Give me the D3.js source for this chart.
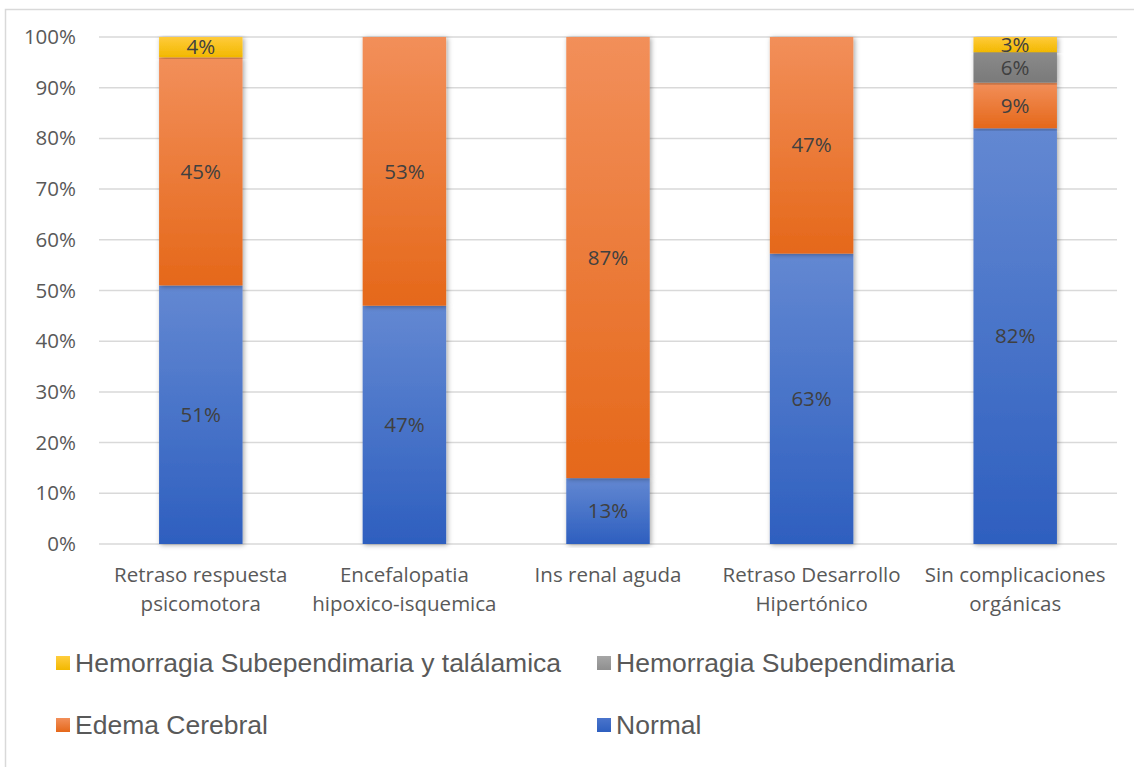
<!DOCTYPE html>
<html>
<head>
<meta charset="utf-8">
<script src="https://cdn.jsdelivr.net/npm/d3@7"></script>
<style>
  body { margin: 0; background: #fff; }
  svg { display: block; }
</style>
</head>
<body>
<svg id="chart" width="1134" height="767"></svg>
<script>
// Categories and series values (percent of cases per complication group)
const categories = [
  ["Retraso respuesta", "psicomotora"],
  ["Encefalopatia", "hipoxico-isquemica"],
  ["Ins renal aguda"],
  ["Retraso Desarrollo", "Hipertónico"],
  ["Sin complicaciones", "orgánicas"]
];
const normal = [51, 47, 13, 63, 82];
const edema = [45, 53, 87, 47, 9];
const hemSub = [0, 0, 0, 0, 6];
const hemSubTal = [4, 0, 0, 0, 3];
const seriesNames = ["Normal", "Edema Cerebral", "Hemorragia Subependimaria", "Hemorragia Subependimaria y találamica"];
const yTicks = [0, 0.1, 0.2, 0.3, 0.4, 0.5, 0.6, 0.7, 0.8, 0.9, 1];

const seriesValues = [normal, edema, hemSub, hemSubTal];
const colors = {
  "Normal": ["#6388d2", "#2e5fbf"],
  "Edema Cerebral": ["#f28f5a", "#e5681a"],
  "Hemorragia Subependimaria": ["#8a8a8a", "#7a7a7a"],
  "Hemorragia Subependimaria y találamica": ["#ffcb3a", "#f2b800"]
};
const legendColors = {
  "Normal": ["#4a74cc", "#2e5fbf"],
  "Edema Cerebral": ["#f28f5a", "#e5681a"],
  "Hemorragia Subependimaria": ["#a6a6a6", "#8f8f8f"],
  "Hemorragia Subependimaria y találamica": ["#ffcd3e", "#f2b800"]
};

const rows = categories.map((c, i) => {
  const r = { key: i };
  seriesNames.forEach((s, j) => r[s] = seriesValues[j][i]);
  return r;
});

const svg = d3.select("#chart");
const margin = { left: 99, right: 17, top: 37, bottom: 223 };
const W = 1134, H = 767;

// Outer frame
svg.append("rect")
  .attr("x", 5.5).attr("y", 9.5)
  .attr("width", 1140).attr("height", 770)
  .attr("fill", "#fff").attr("stroke", "#d9d9d9").attr("stroke-width", 1.5);

const defs = svg.append("defs");
Object.entries(colors).forEach(([name, [c1, c2]], i) => {
  const g = defs.append("linearGradient").attr("id", "g" + i)
    .attr("x1", 0).attr("y1", 0).attr("x2", 0).attr("y2", 1);
  g.append("stop").attr("offset", "0%").attr("stop-color", c1);
  g.append("stop").attr("offset", "100%").attr("stop-color", c2);
});
Object.entries(legendColors).forEach(([name, [c1, c2]], i) => {
  const g = defs.append("linearGradient").attr("id", "lg" + i)
    .attr("x1", 0).attr("y1", 0).attr("x2", 0).attr("y2", 1);
  g.append("stop").attr("offset", "0%").attr("stop-color", c1);
  g.append("stop").attr("offset", "100%").attr("stop-color", c2);
});
const shadow = defs.append("filter").attr("id", "shadow")
  .attr("x", "-20%").attr("y", "-5%").attr("width", "140%").attr("height", "110%");
shadow.append("feDropShadow").attr("dx", 1.5).attr("dy", 1).attr("stdDeviation", 2.5)
  .attr("flood-color", "#000").attr("flood-opacity", 0.35);

const x = d3.scaleBand()
  .domain(d3.range(categories.length))
  .range([margin.left, W - margin.right])
  .paddingInner(0.59).paddingOuter(0.295);
const y = d3.scaleLinear().domain([0, 1]).range([H - margin.bottom, margin.top]);

// Gridlines
svg.append("g").selectAll("line").data(yTicks).join("line")
  .attr("x1", margin.left).attr("x2", W - margin.right)
  .attr("y1", d => y(d)).attr("y2", d => y(d))
  .attr("stroke", "#d9d9d9").attr("stroke-width", 1.5);

// Y axis labels
const yAxis = d3.axisLeft(y).tickValues(yTicks).tickFormat(d3.format(".0%")).tickSize(0).tickPadding(23);
const ya = svg.append("g").attr("transform", `translate(${margin.left},0)`).call(yAxis);
ya.select(".domain").remove();
ya.selectAll("text").attr("font-family", "Open Sans, sans-serif").attr("font-size", 20.5).attr("fill", "#595959");

// Stacked, normalised to 100%
const stack = d3.stack().keys(seriesNames).offset(d3.stackOffsetExpand);
const stacked = stack(rows);

const layers = svg.append("g").selectAll("g").data(stacked).join("g")
  .attr("fill", (d, i) => `url(#g${i})`);

layers.selectAll("rect").data(d => d.map((v, i) => ({ v, i }))).join("rect")
  .attr("x", d => x(d.i))
  .attr("width", x.bandwidth())
  .attr("y", d => y(d.v[1]))
  .attr("height", d => Math.max(0, y(d.v[0]) - y(d.v[1])))
  .attr("filter", "url(#shadow)");

// Data labels
const labels = svg.append("g");
stacked.forEach((layer, si) => {
  layer.forEach((v, i) => {
    const val = seriesValues[si][i];
    if (!val) return;
    labels.append("text")
      .attr("x", x(i) + x.bandwidth() / 2)
      .attr("y", y((v[0] + v[1]) / 2))
      .attr("dy", "0.35em")
      .attr("text-anchor", "middle")
      .attr("font-family", "Open Sans, sans-serif")
      .attr("font-size", 20.5)
      .attr("fill", "#404040")
      .text(val + "%");
  });
});

// X axis labels
const xl = svg.append("g");
categories.forEach((lines, i) => {
  const t = xl.append("text")
    .attr("x", x(i) + x.bandwidth() / 2)
    .attr("y", 582)
    .attr("text-anchor", "middle")
    .attr("font-family", "Open Sans, sans-serif")
    .attr("font-size", 20.5)
    .attr("fill", "#595959");
  lines.forEach((ln, k) => {
    t.append("tspan").attr("x", x(i) + x.bandwidth() / 2).attr("dy", k === 0 ? 0 : 29).text(ln);
  });
});

// Legend
const legendItems = [
  { name: "Hemorragia Subependimaria y találamica", idx: 3, x: 56, y: 663 },
  { name: "Hemorragia Subependimaria", idx: 2, x: 597, y: 663 },
  { name: "Edema Cerebral", idx: 1, x: 56, y: 725 },
  { name: "Normal", idx: 0, x: 597, y: 725 }
];
const lg = svg.append("g");
legendItems.forEach(it => {
  lg.append("rect").attr("x", it.x).attr("y", it.y - 7).attr("width", 14).attr("height", 14)
    .attr("fill", `url(#lg${it.idx})`);
  lg.append("text").attr("x", it.x + 19).attr("y", it.y).attr("dy", "0.35em")
    .attr("font-family", "Liberation Sans, Arial, sans-serif")
    .attr("font-size", 26.5).attr("fill", "#595959").text(it.name);
});
</script>
</body>
</html>
